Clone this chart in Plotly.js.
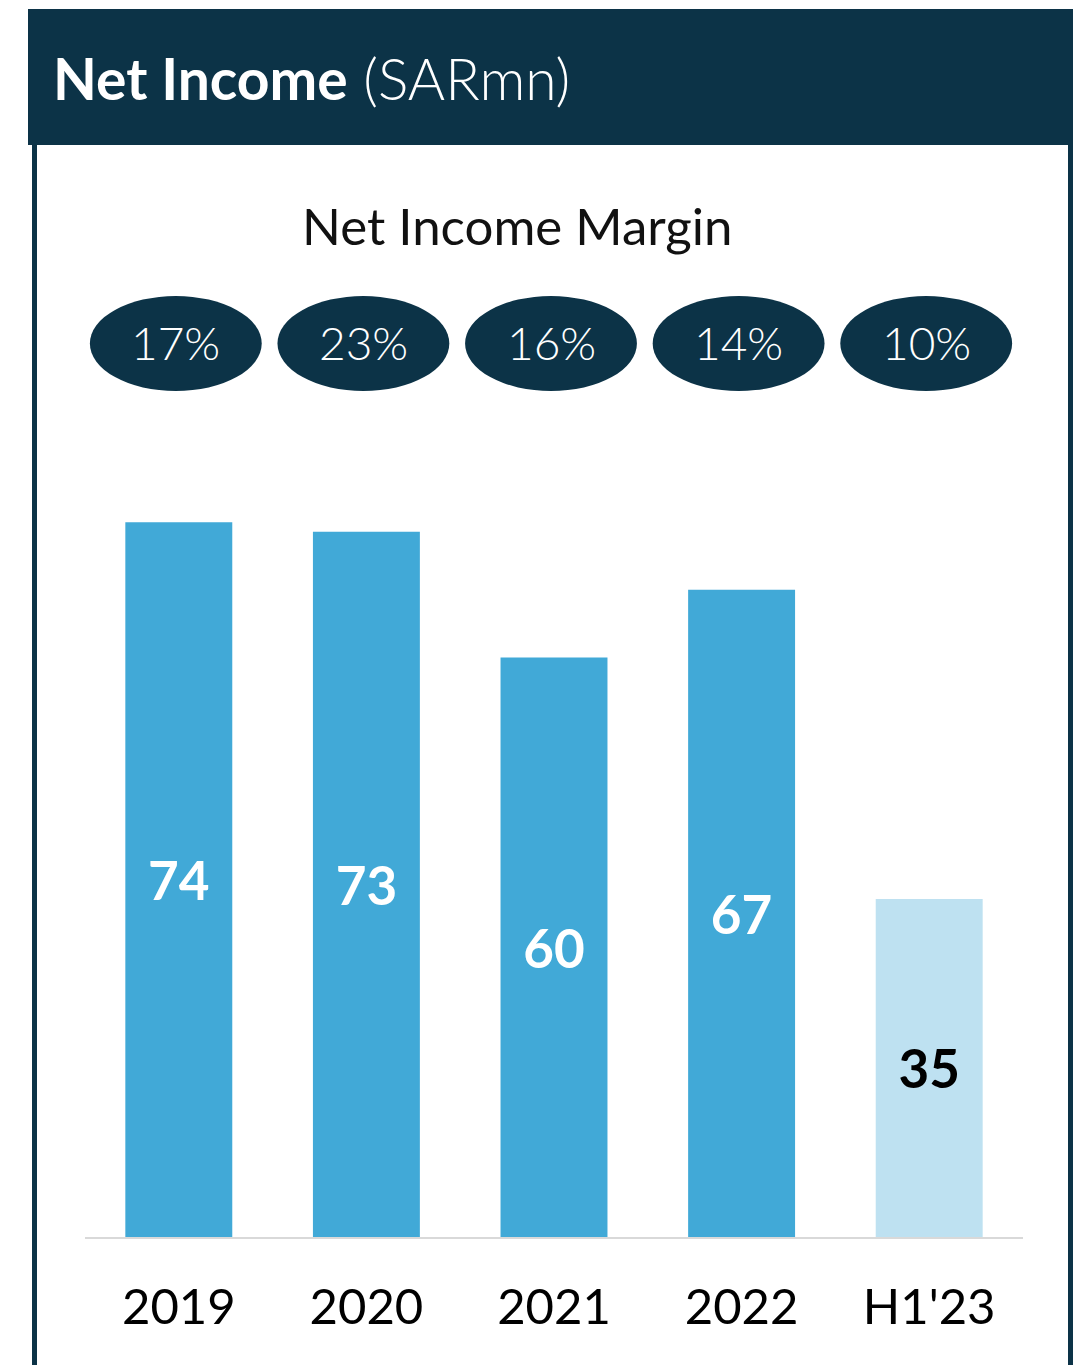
<!DOCTYPE html>
<html>
<head>
<meta charset="utf-8">
<script src="https://cdn.plot.ly/plotly-3.0.1.min.js"></script>
<style>html,body{margin:0;padding:0;background:#fff;}#chart{width:1084px;height:1365px;}</style>
</head>
<body>
<div id="chart"></div>
<script>
const categories = ["2019", "2020", "2021", "2022", "H1'23"];
const netIncome = [74, 73, 60, 67, 35];
const margins = ["17%", "23%", "16%", "14%", "10%"];
const barColors = ["#41a9d7", "#41a9d7", "#41a9d7", "#41a9d7", "#bee1f1"];
const labelColors = ["#ffffff", "#ffffff", "#ffffff", "#ffffff", "#000000"];

const W = 1084, H = 1365;
const M = {l: 85, r: 61, t: 437, b: 128};
const plotW = W - M.l - M.r, plotH = H - M.t - M.b;
const pxX = v => (v - M.l) / plotW;
const pxY = v => (H - M.b - v) / plotH;
const navy = "#0c3347";
const FONT = "Lato, 'Open Sans', sans-serif";
const shift = -0.016;

const shapes = [
  {type: "rect", xref: "paper", yref: "paper", x0: pxX(28), x1: pxX(1072), y0: pxY(145), y1: pxY(9),
   fillcolor: navy, line: {width: 0}, layer: "above"},
  {type: "line", xref: "paper", yref: "paper", x0: pxX(34.5), x1: pxX(34.5), y0: pxY(145), y1: pxY(1365),
   line: {color: navy, width: 5}, layer: "above"},
  {type: "line", xref: "paper", yref: "paper", x0: pxX(1070.5), x1: pxX(1070.5), y0: pxY(9), y1: pxY(1365),
   line: {color: navy, width: 5}, layer: "above"}
];
categories.forEach((c, i) => {
  shapes.push({type: "circle", xref: "x", yref: "paper", x0: i + shift - 0.458, x1: i + shift + 0.458,
    y0: pxY(391), y1: pxY(296), fillcolor: navy, line: {width: 0}, layer: "above"});
});

const annotations = [
  {text: "Net Income Margin", xref: "paper", yref: "paper", x: pxX(517), y: pxY(225),
   xanchor: "center", yanchor: "middle", showarrow: false,
   font: {family: FONT, size: 51, color: "#111111"}}
];
categories.forEach((c, i) => {
  annotations.push({text: margins[i], xref: "x", yref: "paper", x: i + shift, y: pxY(342),
    xanchor: "center", yanchor: "middle", showarrow: false,
    font: {family: FONT, size: 46, color: "#ffffff", weight: 300}});
});

const trace = {
  type: "bar", x: categories, y: netIncome,
  marker: {color: barColors, line: {width: 0}},
  texttemplate: "%{y}", textposition: "inside", insidetextanchor: "middle", textangle: 0,
  textfont: {family: FONT, size: 53, color: labelColors, weight: 700},
  hoverinfo: "none"
};

const layout = {
  width: W, height: H,
  margin: M,
  paper_bgcolor: "#ffffff", plot_bgcolor: "#ffffff",
  showlegend: false,
  bargap: 0.43,
  title: {text: "<b>Net Income</b> (SARmn)", xref: "container", yref: "container",
    x: 53 / W, xanchor: "left", y: 1 - 80 / H, yanchor: "middle",
    font: {family: FONT, size: 57, color: "#ffffff", weight: 300}},
  xaxis: {type: "category", range: [-0.5, 4.5], showline: true, linecolor: "#d9d9d9", linewidth: 2,
    ticks: "outside", ticklen: 26, tickcolor: "rgba(0,0,0,0)", showgrid: false, zeroline: false,
    tickfont: {family: FONT, size: 49, color: "#000000"}, fixedrange: true},
  yaxis: {range: [0, plotH / 9.66], visible: false, showgrid: false, zeroline: false, fixedrange: true},
  shapes: shapes,
  annotations: annotations
};

Plotly.newPlot("chart", [trace], layout, {displayModeBar: false, staticPlot: true});
</script>
</body>
</html>
